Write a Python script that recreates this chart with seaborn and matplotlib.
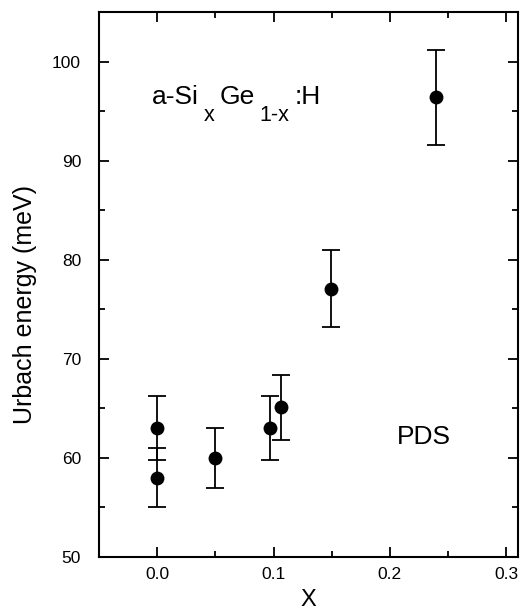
import matplotlib
matplotlib.use("Agg")
import matplotlib.pyplot as plt
import matplotlib.transforms as mtransforms
import seaborn as sns
import pandas as pd
from matplotlib.ticker import MultipleLocator

x_frac = [0.0, 0.0, 0.05, 0.097, 0.106, 0.149, 0.24]
urbach = [63.0, 58.0, 60.0, 63.0, 65.1, 77.1, 96.4]
err = [3.2, 3.0, 3.0, 3.2, 3.3, 3.9, 4.8]
x_ticks = [0.0, 0.1, 0.2, 0.3]
x_ticklabels = ["0.0", "0.1", "0.2", "0.3"]

df = pd.DataFrame({"x": x_frac, "E": urbach, "err": err})

sns.set_theme(style="white")
plt.rcParams['font.family'] = ['Liberation Sans', 'DejaVu Sans']
plt.rcParams['text.color'] = 'black'
plt.rcParams['axes.labelcolor'] = 'black'
plt.rcParams['xtick.color'] = 'black'
plt.rcParams['ytick.color'] = 'black'

fig = plt.figure(figsize=(5.22, 6.12), dpi=100)
ax = fig.add_axes([0.19, 0.090, 0.802, 0.890])

ax.errorbar(df["x"], df["E"], yerr=df["err"], fmt="none", ecolor="black",
            elinewidth=1.3, capsize=6.5, capthick=1.3, zorder=2)
sns.scatterplot(data=df, x="x", y="E", ax=ax, color="black", s=100,
                edgecolor="black", linewidth=0, zorder=3, legend=False)

ax.set_xlim(-0.05, 0.31)
ax.set_ylim(50, 105)
ax.xaxis.set_minor_locator(MultipleLocator(0.05))
ax.yaxis.set_major_locator(MultipleLocator(10))
ax.yaxis.set_minor_locator(MultipleLocator(5))
ax.set_xticks(x_ticks)
ax.set_xticklabels(x_ticklabels)
ax.tick_params(which="both", direction="in", top=True, right=True,
               bottom=True, left=True, color="black", width=1.3)
ax.tick_params(which="major", length=7, labelsize=12.5)
ax.tick_params(which="minor", length=4)
ax.tick_params(axis="x", which="major", pad=7)
ax.tick_params(axis="y", which="major", pad=13)
for s in ax.spines.values():
    s.set_color("black")
    s.set_linewidth(1.5)

ax.set_xlabel("X", fontsize=17, va="center", ha="center")
ax.xaxis.set_label_coords(0.5, -0.079)
ax.set_ylabel("Urbach energy (meV)", fontsize=18, va="center", ha="center")
ax.yaxis.set_label_coords(-0.177, 0.464)

# composite label a-Si_x Ge_{1-x}:H with large, deeply lowered subscripts
fig.canvas.draw()
renderer = fig.canvas.get_renderer()
ident = mtransforms.IdentityTransform()
x0, y0 = ax.transData.transform((-0.005, 95.7))
parts = [("a-Si", 19, 0), ("x", 15.5, -17), ("Ge", 19, 0), ("1-x", 15.5, -17), (":H", 19, 0)]
cx = x0
for s, size, dy in parts:
    t = fig.text(cx, y0 + dy, s, fontsize=size, transform=ident,
                 ha="left", va="baseline")
    w = t.get_window_extent(renderer).width
    cx += w + 5

ax.text(0.206, 61.4, "PDS", fontsize=19, ha="left", va="baseline")

fig.savefig("out.png", dpi=100, facecolor="white")
